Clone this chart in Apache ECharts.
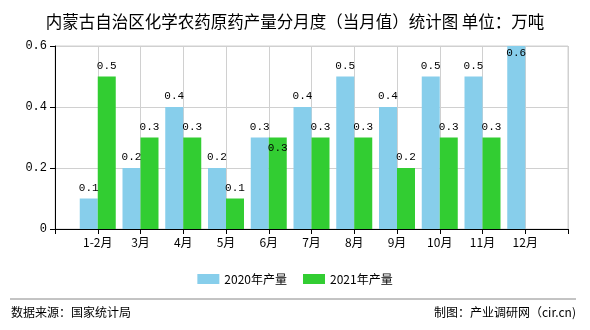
<!DOCTYPE html>
<html><head><meta charset="utf-8">
<script src="https://cdn.jsdelivr.net/npm/echarts@6/dist/echarts.min.js"></script>
<style>html,body{margin:0;padding:0;background:#fff}#c{width:590px;height:330px}</style>
</head><body><div id="c"></div>
<script>
var categories = ['', '1-2月', '3月', '4月', '5月', '6月', '7月', '8月', '9月', '10月', '11月', '12月', ''];
var values2020 = [null, 0.1, 0.2, 0.4, 0.2, 0.3, 0.4, 0.5, 0.4, 0.5, 0.5, 0.6, null];
var values2021 = [null, 0.5, 0.3, 0.3, 0.1, 0.3, 0.3, 0.3, 0.2, 0.3, 0.3, null, null];
var yTicks = [0, 0.2, 0.4, 0.6];
var seriesNames = ['2020年产量', '2021年产量'];
var titleText = '内蒙古自治区化学农药原药产量分月度（当月值）统计图 单位：万吨';
var sourceText = '数据来源：国家统计局';
var makerText = '制图：产业调研网（cir.cn)';

var chart = echarts.init(document.getElementById('c'), null, {renderer: 'canvas'});
var monoFont = '"Liberation Mono", "DejaVu Sans Mono", monospace';
var cjkFont = '"Noto Sans CJK SC", "Noto Sans", sans-serif';
var gridTop = 46;

var labelCfg = {show: true, position: 'top', distance: 5, color: '#000', fontFamily: monoFont, fontSize: 11,
  formatter: function (p) { return p.value == null ? '' : String(p.value); }};

chart.setOption({
  animation: false,
  backgroundColor: '#fff',
  title: {text: titleText, left: 'center', top: 8,
    textStyle: {fontFamily: cjkFont, fontSize: 16.5, fontWeight: 'normal', color: '#000'}},
  legend: {top: 268, left: 'center', itemWidth: 22, itemHeight: 10, itemGap: 16,
    icon: 'rect', data: seriesNames,
    textStyle: {fontFamily: cjkFont, fontSize: 12, color: '#000'}},
  grid: {left: 55, right: 22, top: gridTop, bottom: 101, containLabel: false,
    show: true, borderColor: '#d0d0d0', borderWidth: 1},
  xAxis: {type: 'category', data: categories, boundaryGap: false,
    axisLine: {lineStyle: {color: '#000', width: 1}},
    axisTick: {show: true, length: 5, lineStyle: {color: '#000'}},
    axisLabel: {color: '#000', fontFamily: cjkFont, fontSize: 12, margin: 7, interval: 0},
    splitLine: {show: true, lineStyle: {color: '#d0d0d0'}}},
  yAxis: {type: 'value', min: yTicks[0], max: yTicks[yTicks.length - 1], interval: 0.2,
    axisLine: {show: true, lineStyle: {color: '#000', width: 1}},
    axisTick: {show: true, length: 5, lineStyle: {color: '#000'}},
    axisLabel: {color: '#000', fontFamily: monoFont, fontSize: 12, margin: 8},
    splitLine: {show: true, lineStyle: {color: '#d0d0d0'}}},
  series: [
    {name: seriesNames[0], type: 'bar', data: values2020, barWidth: 18, barGap: '0%',
      itemStyle: {color: '#87ceeb'}, label: labelCfg,
      labelLayout: function (p) {
        if (p.rect.y <= gridTop + 1) {
          return {x: p.rect.x + p.rect.width / 2, y: p.rect.y + 2, align: 'center', verticalAlign: 'top'};
        }
      }},
    {name: seriesNames[1], type: 'bar', data: values2021, barWidth: 18, barGap: '0%',
      itemStyle: {color: '#32cd32'}, label: labelCfg,
      labelLayout: function (p) {
        var i = p.dataIndex;
        if (values2020[i] != null && values2020[i] === values2021[i] && i === 5) {
          return {x: p.rect.x + p.rect.width / 2, y: p.labelRect.y + 21, align: 'center', verticalAlign: 'top'};
        }
      }}
  ],
  graphic: [
    {type: 'line', shape: {x1: 10, y1: 299, x2: 576, y2: 299}, style: {stroke: '#888', lineWidth: 1}},
    {type: 'text', left: 11, top: 306, style: {text: sourceText, fill: '#000', font: '12px ' + cjkFont}},
    {type: 'text', right: 14, top: 306, style: {text: makerText, fill: '#000', font: '12px ' + cjkFont}}
  ]
});
</script></body></html>
